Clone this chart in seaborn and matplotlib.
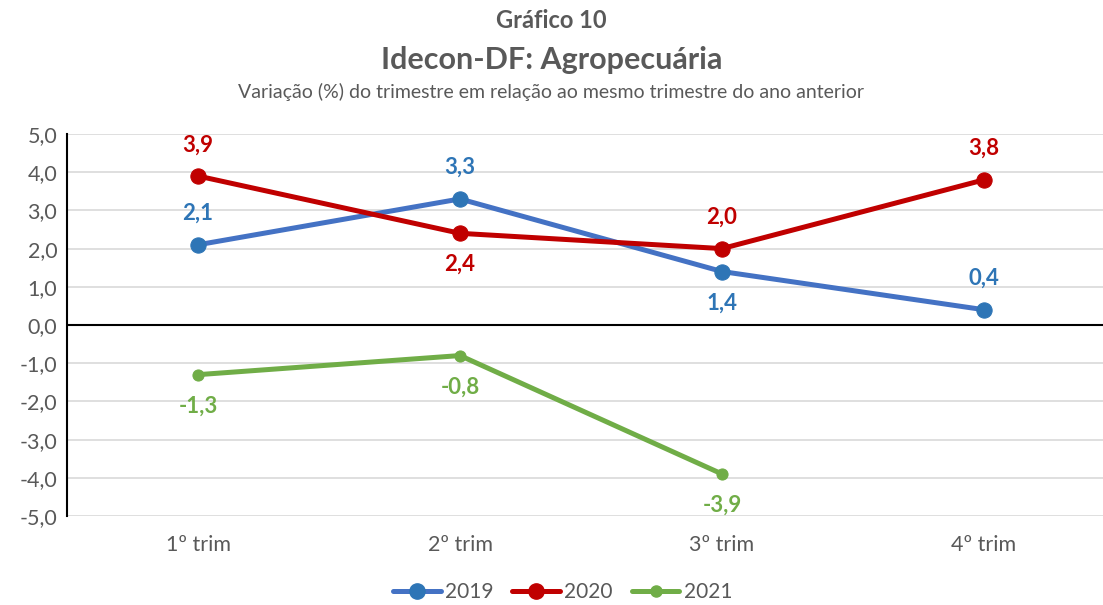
import matplotlib
matplotlib.use("Agg")
import matplotlib.pyplot as plt
import seaborn as sns
import pandas as pd
from matplotlib.lines import Line2D

# dados do gráfico
trimestres = ["1º trim", "2º trim", "3º trim", "4º trim"]
v2019 = [2.1, 3.3, 1.4, 0.4]
v2020 = [3.9, 2.4, 2.0, 3.8]
v2021 = [-1.3, -0.8, -3.9, None]
anos = ["2019", "2020", "2021"]
yticks = [-5, -4, -3, -2, -1, 0, 1, 2, 3, 4, 5]

sns.set_style("white")
plt.rcParams['font.family'] = ['Lato', 'DejaVu Sans']

cinza = "#595959"
cores_linha = {"2019": "#4472C4", "2020": "#C00000", "2021": "#70AD47"}
cores_marca = {"2019": "#2E75B6", "2020": "#C00000", "2021": "#70AD47"}
cores_rotulo = {"2019": "#2E75B6", "2020": "#C00000", "2021": "#70AD47"}
tam_marca = {"2019": 11, "2020": 11, "2021": 8}
# posição do rótulo: +1 acima, -1 abaixo
posicoes = {
    "2019": [1, 1, -1, 1],
    "2020": [1, -1, 1, 1],
    "2021": [-1, -1, -1, -1],
}

rows = []
for ano, vals in zip(anos, [v2019, v2020, v2021]):
    for i, v in enumerate(vals):
        if v is not None:
            rows.append({"ano": ano, "x": i, "valor": v})
df = pd.DataFrame(rows)

fig = plt.figure(figsize=(11.03, 6.05), dpi=100)
ax = fig.add_axes([67 / 1103, 89 / 605, 1036 / 1103, 382 / 605])

for g in yticks:
    ax.axhline(g, color="#D9D9D9", lw=1.2, zorder=0)
ax.axhline(0, color="black", lw=1.5, zorder=1)

for ano in anos:
    d = df[df["ano"] == ano]
    sns.lineplot(data=d, x="x", y="valor", ax=ax, color=cores_linha[ano], lw=3.6,
                 marker="o", markersize=tam_marca[ano],
                 markerfacecolor=cores_marca[ano], markeredgecolor=cores_marca[ano],
                 zorder=3, legend=False)
    for (_, r), p in zip(d.iterrows(), posicoes[ano]):
        txt = f"{r['valor']:.1f}".replace(".", ",")
        ax.annotate(txt, (r["x"], r["valor"]), xytext=(0, 22.5 * p),
                    textcoords="offset points", ha="center", va="center",
                    fontsize=16, fontweight="bold", color=cores_rotulo[ano])

ax.set_xlim(-0.5, -0.5 + 1036 / 262)
ax.set_ylim(-5, 5)
ax.set_yticks(yticks)
ax.set_yticklabels([f"{t:.1f}".replace(".", ",") for t in yticks], color=cinza, fontsize=15.5)
ax.set_xticks(range(len(trimestres)))
ax.set_xticklabels(trimestres, color=cinza, fontsize=15.5)
ax.tick_params(axis="both", length=0, pad=7)
ax.tick_params(axis="x", pad=14)
ax.set_xlabel("")
ax.set_ylabel("")
for s in ["top", "right", "bottom"]:
    ax.spines[s].set_visible(False)
ax.spines["left"].set_color("black")
ax.spines["left"].set_linewidth(1.5)

fig.text(0.5, 1 - 21 / 605, "Gráfico 10", ha="center", va="center",
         fontsize=17, fontweight="bold", color=cinza)
fig.text(0.5, 1 - 60 / 605, "Idecon-DF: Agropecuária", ha="center", va="center",
         fontsize=22, fontweight="bold", color=cinza)
fig.text(0.5, 1 - 92 / 605, "Variação (%) do trimestre em relação ao mesmo trimestre do ano anterior",
         ha="center", va="center", fontsize=14, color=cinza)

handles = [Line2D([0], [0], color=cores_linha[a], lw=3.6, marker="o",
                  markersize=tam_marca[a], markerfacecolor=cores_marca[a],
                  markeredgecolor=cores_marca[a]) for a in anos]
fig.legend(handles, anos, loc="center", bbox_to_anchor=(0.51, 1 - 592 / 605),
           ncol=3, frameon=False, fontsize=15, labelcolor=cinza,
           handlelength=2.3, columnspacing=0.9, handletextpad=0.2)

fig.savefig("out.png", dpi=100)
